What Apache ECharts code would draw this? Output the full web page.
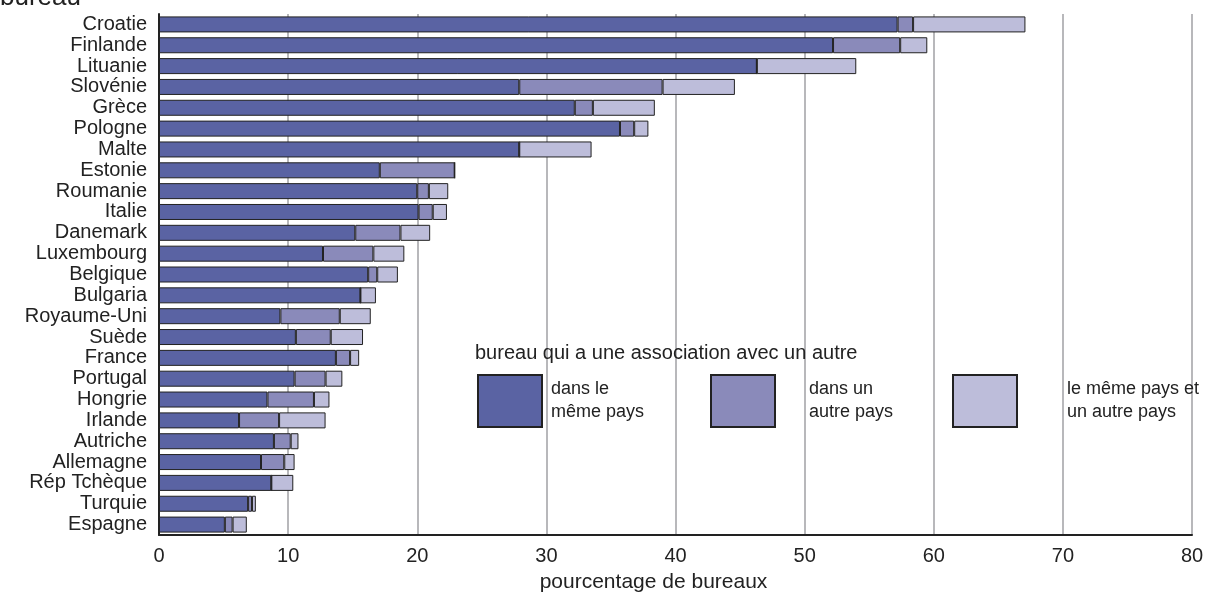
<!DOCTYPE html>
<html>
<head>
<meta charset="utf-8">
<script src="https://cdn.jsdelivr.net/npm/echarts@6/dist/echarts.min.js"></script>
<style>html,body{margin:0;padding:0;background:#fff;overflow:hidden;}#c{width:1210px;height:598px;}</style>
</head>
<body>
<div id="c"></div>
<script>
const categories = ["Croatie","Finlande","Lituanie","Slovénie","Grèce","Pologne","Malte","Estonie","Roumanie","Italie","Danemark","Luxembourg","Belgique","Bulgaria","Royaume-Uni","Suède","France","Portugal","Hongrie","Irlande","Autriche","Allemagne","Rép Tchèque","Turquie","Espagne"];
const memePays   = [57.2,52.2,46.3,27.9,32.2,35.7,27.9,17.1,20.0,20.1,15.2,12.7,16.2,15.6,9.4,10.6,13.7,10.5,8.4,6.2,8.9,7.9,8.7,6.9,5.1];
const autrePays  = [1.2,5.2,0,11.1,1.4,1.1,0,5.8,0.9,1.1,3.5,3.9,0.7,0,4.6,2.7,1.1,2.4,3.6,3.1,1.3,1.8,0,0.3,0.6];
const lesDeux    = [8.7,2.1,7.7,5.6,4.8,1.1,5.6,0,1.5,1.1,2.3,2.4,1.6,1.2,2.4,2.5,0.7,1.3,1.2,3.6,0.6,0.8,1.7,0.3,1.1];
const xTicks = [0,10,20,30,40,50,60,70,80];
const seriesNames = ["dans le\nmême pays","dans un\nautre pays","le même pays et\nun autre pays"];
const colors = ["#5a63a3","#8a8aba","#bdbdda"];

const chart = echarts.init(document.getElementById('c'));
const font = 'Liberation Sans, Arial, sans-serif';
const dataSets = [memePays, autrePays, lesDeux];
const series = dataSets.map((d,i)=>({
  name: seriesNames[i],
  type: 'bar',
  stack: 'total',
  barWidth: 16,
  data: d,
  itemStyle: {color: colors[i], borderColor: '#222', borderWidth: 1},
  emphasis: {disabled: true}
}));
const legendPos = [477, 710, 952];
const legendPadLeft = [4, 29, 45];
chart.setOption({
  animation: false,
  title: {text: 'bureau qui a une association avec un autre', left: 475, top: 343, padding: 0,
    textStyle: {fontFamily: font, fontSize: 20, fontWeight: 'normal', color: '#222'}},
  graphic: [{type:'text', left: 0, top: -15, style:{text:'bureau', font:'26px Liberation Sans, Arial, sans-serif', fill:'#222'}}],
  legend: seriesNames.map((n,i)=>({
    data:[n], left: legendPos[i], top: 374, orient:'horizontal', padding: 0,
    itemWidth: 64, itemHeight: 52, itemGap: 0, icon:'rect', selectedMode:false,
    textStyle:{fontFamily: font, fontSize: 18, color:'#222', lineHeight: 23, padding:[4,0,0,legendPadLeft[i]]}
  })),
  grid: {left: 159, right: 18, top: 14, bottom: 57, containLabel: false},
  xAxis: {
    type: 'value', min: 0, max: 80, interval: 10,
    name: 'pourcentage de bureaux', nameLocation: 'middle', nameGap: 37,
    nameTextStyle: {fontFamily: font, fontSize: 21, color:'#222', padding: [0, 44, 0, 0]},
    axisLine: {show: true, lineStyle: {color: '#222', width: 2}},
    axisTick: {show: false},
    axisLabel: {fontFamily: font, fontSize: 20, color:'#222', margin: 11},
    splitLine: {show: true, lineStyle: {color: '#a0a0a4', width: 1.5}}
  },
  yAxis: {
    type: 'category', data: categories, inverse: true,
    axisLine: {show: true, lineStyle: {color: '#222', width: 2}},
    axisTick: {show: false},
    axisLabel: {fontFamily: font, fontSize: 20, color:'#222', margin: 12, interval: 0}
  },
  series: series
});
</script>
</body>
</html>
